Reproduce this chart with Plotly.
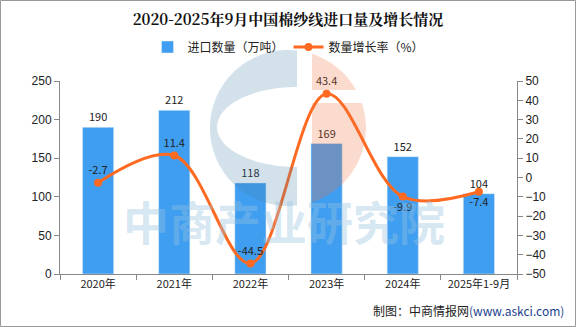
import math
import base64
import plotly.graph_objects as go

categories = ["2020年", "2021年", "2022年", "2023年", "2024年", "2025年1-9月"]
import_volume = [190, 212, 118, 169, 152, 104]
growth_rate = [-2.7, 11.4, -44.5, 43.4, -9.9, -7.4]
rate_text_pos = ["top center", "top center", "top center", "top center", "bottom center", "bottom center"]

BAR = "#409EF0"
LINE = "#FF6A22"
FONT = "Noto Sans CJK SC"

# plot area in pixels (for paper-coordinate decorations)
PL, PR, PT, PB = 60, 517, 81, 274
PW, PH = PR - PL, PB - PT


def px(x):
    return (x - PL) / PW


def py(y):
    return (PB - y) / PH


# ---- watermark logo (pixel geometry) ----
CX, CY, R = 288, 128, 78
N = 60


def arc(a0, a1, n=N):
    return [(CX + R * math.cos(a0 + (a1 - a0) * i / n), CY + R * math.sin(a0 + (a1 - a0) * i / n))
            for i in range(n + 1)]


def svg_path(points):
    return "M " + " L ".join(f"{x:.2f},{y:.2f}" for x, y in points) + " Z"


cut = 297
dy = math.sqrt(R * R - (cut - CX) ** 2)
outer = arc(math.atan2(-dy, cut - CX), math.atan2(dy, cut - CX) - 2 * math.pi)
HX, HY, HRX, HRY = 297, 127, 80, 40
hole = [(HX + HRX * math.cos(math.pi / 2 + math.pi * i / N), HY + HRY * math.sin(math.pi / 2 + math.pi * i / N))
        for i in range(N + 1)]
SX = 312
ds = math.sqrt(R * R - (SX - CX) ** 2)
bot_pts = [(SX, 103.0)] + arc(math.atan2(103 - CY, math.sqrt(R * R - (103 - CY) ** 2)),
                              math.atan2(ds, SX - CX)) + [(SX, CY + ds), (SX, 103.0)]

BX0, BY0, BX1, BY1 = 200, 45, 380, 215
svg = (
    f'<svg xmlns="http://www.w3.org/2000/svg" width="{BX1-BX0}" height="{BY1-BY0}" '
    f'viewBox="{BX0} {BY0} {BX1-BX0} {BY1-BY0}">'
    '<defs><clipPath id="ic">'
    f'<rect x="{SX}" y="{BY0}" width="{BX1-SX}" height="{90-BY0}"/>'
    '</clipPath></defs>'
    f'<path d="{svg_path(outer)} {svg_path(hole)}" fill="rgb(70,130,170)" fill-opacity="0.24" fill-rule="evenodd"/>'
    f'<circle cx="{CX}" cy="{CY}" r="{R}" fill="rgb(240,110,60)" fill-opacity="0.25" clip-path="url(#ic)"/>'
    '</svg>'
)
logo_src = "data:image/svg+xml;base64," + base64.b64encode(svg.encode()).decode()

fig = go.Figure()
fig.add_trace(go.Bar(
    x=categories, y=import_volume, name="进口数量（万吨）",
    marker=dict(color=BAR), width=0.41,
    text=[str(v) for v in import_volume], textposition="outside",
    textfont=dict(size=11, color="#222", family=FONT), cliponaxis=False,
))
fig.add_trace(go.Scatter(
    x=categories, y=growth_rate, name="数量增长率（%）", yaxis="y2",
    mode="lines+markers+text", line=dict(color=LINE, width=3, shape="spline", smoothing=1.0),
    marker=dict(color=LINE, size=8),
    text=[f"{v}" for v in growth_rate], textposition=rate_text_pos,
    textfont=dict(size=11, color="#222", family=FONT), cliponaxis=False,
))
# lower part of the logo's salmon "i" as a filled polygon on a hidden pixel-scaled overlay axis
fig.add_trace(go.Scatter(
    x=[p[0] for p in bot_pts], y=[p[1] for p in bot_pts], xaxis="x3", yaxis="y3",
    mode="lines", fill="toself", fillcolor="rgba(240,110,60,0.25)", line=dict(width=0, color="rgba(0,0,0,0)"),
    showlegend=False, hoverinfo="skip",
))

fig.add_layout_image(source=logo_src, xref="paper", yref="paper", x=px(BX0), y=py(BY0),
                     sizex=px(BX1) - px(BX0), sizey=py(BY0) - py(BY1), xanchor="left", yanchor="top",
                     sizing="stretch", layer="above", opacity=1)

# watermark text
fig.add_annotation(text="<b>中商产业研究院</b>", xref="paper", yref="paper", x=px(284), y=py(255),
                   showarrow=False, font=dict(size=46, color="rgba(150,195,225,0.38)", family=FONT))
# border
fig.add_shape(type="rect", xref="paper", yref="paper", x0=px(0.5), x1=px(575.5), y0=py(326.5), y1=py(0.5),
              line=dict(color="#999", width=1))

fig.add_annotation(text="制图：中商情报网<span style='color:#1a3f8f'>(www.askci.com)</span>",
                   xref="paper", yref="paper", x=px(566), y=py(310), xanchor="right", yanchor="middle",
                   showarrow=False, font=dict(size=12, color="#222", family=FONT))

fig.update_layout(
    width=576, height=327,
    margin=dict(l=PL, r=576 - PR, t=PT, b=327 - PB),
    paper_bgcolor="white", plot_bgcolor="rgba(0,0,0,0)",
    title=dict(text="<b>2020-2025年9月中国棉纱线进口量及增长情况</b>", x=0.5, xanchor="center",
               y=1 - 20/327, yanchor="middle", font=dict(size=15, color="#111", family="Noto Serif CJK SC, " + FONT)),
    legend=dict(orientation="h", x=0.5, xanchor="center", y=py(47), yanchor="middle",
                font=dict(size=12, color="#222", family=FONT), bgcolor="rgba(0,0,0,0)"),
    showlegend=True,
    bargap=0.5,
    xaxis=dict(type="category", showline=True, linecolor="#888", ticks="outside", tickson="boundaries",
               tickcolor="#888", ticklen=5, tickfont=dict(size=11, color="#222", family=FONT), showgrid=False),
    yaxis=dict(range=[0, 250], dtick=50, showline=True, linecolor="#888", ticks="outside", tickcolor="#888",
               ticklen=5, showgrid=False, zeroline=False, tickfont=dict(size=12, color="#222", family="Liberation Sans")),
    yaxis2=dict(range=[-50, 50], dtick=10, overlaying="y", side="right", showline=True, linecolor="#888",
                ticks="outside", tickcolor="#888", ticklen=5, showgrid=False, zeroline=False,
                tickfont=dict(size=12, color="#222", family="Liberation Sans")),
    xaxis3=dict(range=[PL, PR], overlaying="x", anchor="y3", visible=False, showgrid=False, zeroline=False),
    yaxis3=dict(range=[PB, PT], overlaying="y", anchor="x3", visible=False, showgrid=False, zeroline=False),
)

fig.write_html("out.html")
